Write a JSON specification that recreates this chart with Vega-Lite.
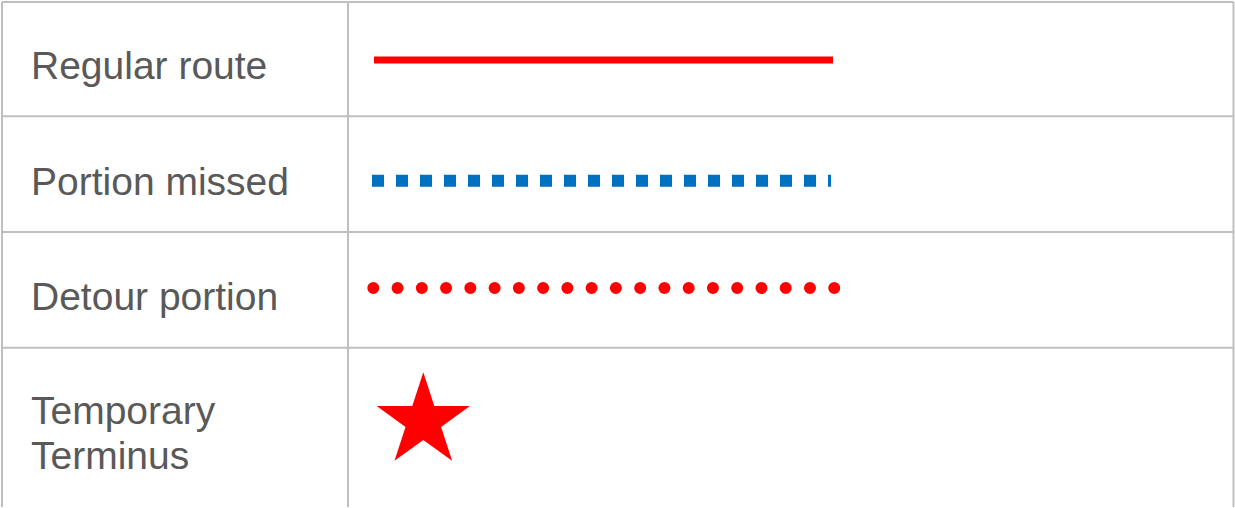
{
  "$schema": "https://vega.github.io/schema/vega-lite/v6.json",
  "width": 1235,
  "height": 508,
  "autosize": {"type": "fit", "contains": "padding"},
  "padding": 0,
  "background": "white",
  "config": {"view": {"stroke": null}},
  "datasets": {
    "grid": [
      {"x": 2, "x2": 1233.5, "y": 2, "y2": 2},
      {"x": 2, "x2": 1233.5, "y": 116.5, "y2": 116.5},
      {"x": 2, "x2": 1233.5, "y": 232.5, "y2": 232.5},
      {"x": 2, "x2": 1233.5, "y": 348.5, "y2": 348.5},
      {"x": 2, "x2": 2, "y": 2, "y2": 508},
      {"x": 348, "x2": 348, "y": 2, "y2": 508},
      {"x": 1233.5, "x2": 1233.5, "y": 2, "y2": 508}
    ],
    "labels": [
      {"label": "Regular route", "x": 31, "y": 79},
      {"label": "Portion missed", "x": 31, "y": 195},
      {"label": "Detour portion", "x": 31, "y": 311},
      {"label": "Temporary", "x": 31, "y": 425},
      {"label": "Terminus", "x": 31, "y": 470}
    ],
    "routes": [
      {"series": "Regular route", "x": 374, "y": 60},
      {"series": "Regular route", "x": 833, "y": 60},
      {"series": "Portion missed", "x": 372, "y": 181},
      {"series": "Portion missed", "x": 831, "y": 181},
      {"series": "Detour portion", "x": 373.3, "y": 288.5},
      {"series": "Detour portion", "x": 834.3, "y": 288.5}
    ],
    "terminus": [
      {"label": "Temporary Terminus", "x": 423.3, "y": 422}
    ]
  },
  "encoding": {
    "x": {"field": "x", "type": "quantitative", "scale": {"domain": [0, 1235], "nice": false, "zero": false}, "axis": null},
    "y": {"field": "y", "type": "quantitative", "scale": {"domain": [0, 508], "nice": false, "zero": false, "reverse": true}, "axis": null}
  },
  "layer": [
    {
      "data": {"name": "grid"},
      "mark": {"type": "rule", "color": "#bfbfbf", "strokeWidth": 2},
      "encoding": {
        "x2": {"field": "x2"},
        "y2": {"field": "y2"}
      }
    },
    {
      "data": {"name": "labels"},
      "mark": {"type": "text", "font": "Liberation Sans", "fontSize": 39, "color": "#595959", "align": "left", "baseline": "alphabetic"},
      "encoding": {"text": {"field": "label"}}
    },
    {
      "data": {"name": "routes"},
      "transform": [{"filter": "datum.series === 'Regular route'"}],
      "mark": {"type": "line", "color": "#ff0000", "strokeWidth": 7, "strokeCap": "butt"},
      "encoding": {}
    },
    {
      "data": {"name": "routes"},
      "transform": [{"filter": "datum.series === 'Portion missed'"}],
      "mark": {"type": "line", "color": "#0070c0", "strokeWidth": 12, "strokeCap": "butt", "strokeDash": [12, 12]},
      "encoding": {}
    },
    {
      "data": {"name": "routes"},
      "transform": [{"filter": "datum.series === 'Detour portion'"}],
      "mark": {"type": "line", "color": "#ff0000", "strokeWidth": 12, "strokeCap": "round", "strokeDash": [0.01, 24.25]},
      "encoding": {}
    },
    {
      "data": {"name": "terminus"},
      "mark": {"type": "point", "filled": true, "color": "#ff0000", "opacity": 1, "size": 9604, "strokeWidth": 0, "shape": "M0,-1L0.2245,-0.309L0.9511,-0.309L0.3633,0.118L0.5878,0.809L0,0.382L-0.5878,0.809L-0.3633,0.118L-0.9511,-0.309L-0.2245,-0.309Z"},
      "encoding": {}
    }
  ]
}
